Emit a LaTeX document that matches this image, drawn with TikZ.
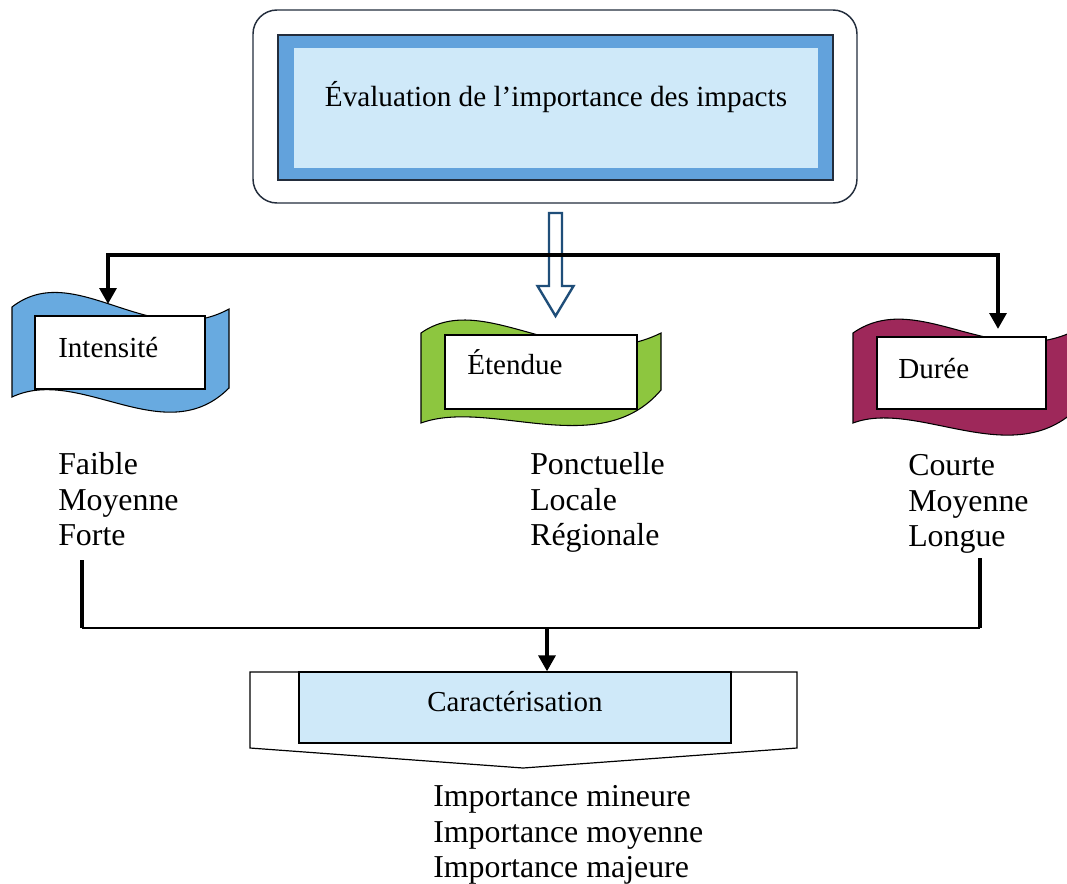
\documentclass[tikz,border=0pt]{standalone}
\usepackage{fontspec}
\setmainfont{Liberation Serif}
\usetikzlibrary{arrows.meta,calc}
\definecolor{flagblue}{RGB}{104,170,224}
\definecolor{flaggreen}{RGB}{141,198,63}
\definecolor{flagmaroon}{RGB}{158,40,90}
\definecolor{bandblue}{RGB}{98,162,220}
\definecolor{paleblue}{RGB}{207,233,249}
\definecolor{hollowblue}{RGB}{31,78,121}
\definecolor{navy}{RGB}{35,45,60}
\begin{document}
\begin{tikzpicture}[x=0.75pt,y=-0.75pt,
  lbl/.style={font=\fontsize{21.8}{25}\selectfont, inner sep=0pt, anchor=base west},
  lst/.style={font=\fontsize{23.9}{26.8}\selectfont, align=left, inner sep=0pt, anchor=north west},
  flag/.style={draw=black, line width=0.8pt},
  whitebox/.style={draw=black, fill=white, line width=0.9pt, inner sep=0pt},
  thickline/.style={line width=3pt},
  blackarrow/.style={line width=3pt, -{Triangle[length=12pt,width=12.5pt]}}]
\useasboundingbox (0,0) rectangle (1067,883);
\fill[white] (0,0) rectangle (1067,883);
\begin{scope}
\clip (0,0) rectangle (1067,883);
% title block
\node[draw=navy, line width=1.1pt, rounded corners=18pt, minimum width=453pt, minimum height=144.75pt, inner sep=0pt] (outer) at (555,106.5) {};
\node[draw=navy, fill=bandblue, line width=1.1pt, minimum width=416.25pt, minimum height=108.75pt, inner sep=0pt] (titlebox) at (555.5,107.5) {};
\node[fill=paleblue, minimum width=393pt, minimum height=90pt, inner sep=0pt] (titlein) at (555.5,107.5) {};
\node[font=\fontsize{21.9}{26}\selectfont, inner sep=0pt, anchor=base] (title) at (556,106) {Évaluation de l’importance des impacts};
% hollow arrow
\coordinate (ha) at (555.5,213);
\draw[draw=hollowblue, fill=white, line width=1.8pt, line join=miter]
  ($(ha)+(-6.5,0)$) -- ($(ha)+(6.5,0)$) -- ($(ha)+(6.5,73)$) -- ($(ha)+(18,73)$)
  -- ($(ha)+(0,103)$) -- ($(ha)+(-18,73)$) -- ($(ha)+(-6.5,73)$) -- cycle;
% flags
\draw[flag, fill=flagblue] (12,307) .. controls (75,258) and (150,352) .. (229,309)
  -- (229,388) .. controls (165,452) and (80,365) .. (12,397) -- cycle;
\draw[flag, fill=flaggreen] (421,333) .. controls (485,288) and (570,378) .. (661,333)
  -- (661,390) .. controls (600,462) and (490,398) .. (421,423) -- cycle;
\draw[flag, fill=flagmaroon] (853,333) .. controls (920,286) and (1000,378) .. (1085,325)
  -- (1085,400) .. controls (1020,478) and (920,398) .. (853,423) -- cycle;
\node[whitebox, minimum width=127.5pt, minimum height=54.75pt] (intbox) at (120,352.5) {};
\node[whitebox, minimum width=144pt, minimum height=55.5pt] (etbox) at (541,372) {};
\node[whitebox, minimum width=126.75pt, minimum height=54pt] (durbox) at (961.5,373) {};
\node[lbl] (intl) at (58,357) {Intensité};
\node[lbl] (etl) at (467,374) {Étendue};
\node[lbl] (durl) at (898,378) {Durée};
% connectors top
\coordinate (hl) at (108,255);
\coordinate (hr) at (998,255);
\coordinate (inttop) at (108,304);
\coordinate (durtop) at (998,329);
\draw[thickline, line cap=rect] (hl) -- (hr);
\draw[blackarrow] (hl) -- (inttop);
\draw[blackarrow] (hr) -- (durtop);
% lists
\node[lst] (intlist) at (58,452) {Faible\\Moyenne\\Forte};
\node[lst] (etlist) at (530,452) {Ponctuelle\\Locale\\Régionale};
\node[lst] (durlist) at (908,454) {Courte\\Moyenne\\Longue};
% bottom connectors
\coordinate (bl) at (82,628);
\coordinate (br) at (980,628);
\coordinate (bm) at (547,628);
\draw[line width=2.4pt] (82,560) -- (bl);
\draw[line width=2.4pt] (980,558) -- (br);
\draw[line width=1.1pt] (bl) -- (br);
% caracterisation
\draw[line width=0.9pt, fill=white] (250,672) -- (797,672) -- (797,748) -- (523,768) -- (250,748) -- cycle;
\node[draw=black, fill=paleblue, line width=0.9pt, minimum width=324pt, minimum height=53.25pt, inner sep=0pt] (carac) at (515,707.5) {};
\node[font=\fontsize{21.7}{26}\selectfont, inner sep=0pt, anchor=base] (caracl) at (515,711) {Caractérisation};
\draw[blackarrow] (bm) -- (bm |- carac.north);
\node[lst] (result) at (433,785) {Importance mineure\\Importance moyenne\\Importance majeure};
\end{scope}
\end{tikzpicture}
\end{document}
